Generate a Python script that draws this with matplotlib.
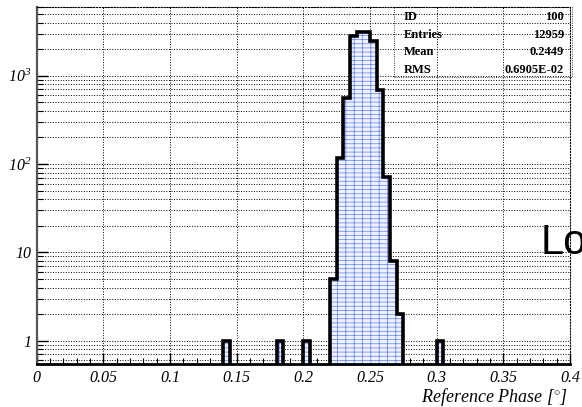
import matplotlib
matplotlib.use("Agg")
import matplotlib.pyplot as plt
from matplotlib.ticker import MultipleLocator, FixedLocator, LogLocator, NullFormatter
import numpy as np

plt.rcParams['mathtext.fontset'] = 'custom'
plt.rcParams['mathtext.rm'] = 'Liberation Serif:italic'
plt.rcParams['mathtext.it'] = 'Liberation Serif:italic'
plt.rcParams['hatch.linewidth'] = 0.5

# Histogram contents, bins of 0.005 starting at 0.14
bin_start = 0.14
bin_width = 0.005
counts = [1, 0, 0, 0, 0, 0, 0, 0,
          1, 0, 0, 0,
          1, 0, 0, 0,
          5, 118, 565, 2830, 3090, 3090, 2490, 690, 71, 8, 2,
          0, 0, 0, 0, 0,
          1]

stats_names = ['ID', 'Entries', 'Mean', 'RMS']
stats_values = ['100', '12959', '0.2449', '0.6905E-02']

x_ticks = [0, 0.05, 0.1, 0.15, 0.2, 0.25, 0.3, 0.35, 0.4]
x_labels = ['0', '0.05', '0.1', '0.15', '0.2', '0.25', '0.3', '0.35', '0.4']
y_ticks = [1, 10, 100, 1000]
y_labels = ['1', '10', r'$10^{2}$', r'$10^{3}$']

edges = bin_start + bin_width * np.arange(len(counts) + 1)
vals = np.array(counts, dtype=float)
vals[vals <= 0] = 1e-2

fig = plt.figure(figsize=(5.82, 4.07), dpi=100)
ax = fig.add_axes([36.7 / 582, 1 - 364 / 407, (570 - 36.7) / 582, (364 - 7) / 407])

ax.set_yscale('log')
# light blue brick-like fill
ax.stairs(vals, edges, baseline=1e-2, fill=True, facecolor='#eef1ff',
          edgecolor='#5f7ef0', linewidth=0, hatch='----||', zorder=2)
ax.stairs(vals, edges, baseline=1e-2, color='black', linewidth=2.6, zorder=3)

ax.set_xlim(0, 0.4)
ax.set_ylim(0.545, 6000)

ax.xaxis.set_major_locator(FixedLocator(x_ticks))
ax.xaxis.set_minor_locator(MultipleLocator(0.01))
ax.set_xticklabels(x_labels, fontfamily='Liberation Serif', fontstyle='italic', fontsize=11.5)
ax.yaxis.set_major_locator(FixedLocator(y_ticks))
ax.yaxis.set_minor_locator(LogLocator(base=10, subs=np.arange(2, 10)))
ax.yaxis.set_minor_formatter(NullFormatter())
ax.set_yticklabels(y_labels, fontfamily='Liberation Serif', fontstyle='italic', fontsize=11.5)

ax.grid(True, which='major', axis='x', color='black', linestyle=':', linewidth=0.7)
ax.grid(True, which='both', axis='y', color='black', linestyle=':', linewidth=0.7)
ax.set_axisbelow(True)

ax.tick_params(which='major', direction='in', length=8, width=1)
ax.tick_params(axis='x', which='major', pad=4)
ax.tick_params(axis='y', which='major', pad=4)
ax.tick_params(which='minor', direction='in', length=4, width=0.8)
ax.tick_params(top=False, right=False, which='both')

ax.spines['left'].set_color('#555555')
ax.spines['left'].set_linewidth(1.6)
ax.spines['bottom'].set_color('black')
ax.spines['bottom'].set_linewidth(2)
for s in ['top', 'right']:
    ax.spines[s].set_linestyle(':')
    ax.spines[s].set_linewidth(0.8)

fig.text(568 / 582, 1 - 397.5 / 407, 'Reference Phase [$^{\\circ}$]', ha='right', va='center',
         fontfamily='Liberation Serif', fontstyle='italic', fontsize=13)

# stats box
bx0, by0 = 394 / 582, 1 - 77 / 407
bx1, by1 = 572 / 582, 1 - 7 / 407
fig.add_artist(plt.Rectangle((bx0, by0), bx1 - bx0, by1 - by0, transform=fig.transFigure,
                             fill=False, edgecolor='black', linewidth=0.6, linestyle=':'))
row_y = [16.7, 34.7, 52, 69.7]
for name, val, yy in zip(stats_names, stats_values, row_y):
    fig.text(404 / 582, 1 - yy / 407, name, ha='left', va='center',
             fontfamily='Liberation Serif', fontweight='bold', fontsize=9)
    fig.text(564 / 582, 1 - yy / 407, val, ha='right', va='center',
             fontfamily='Liberation Serif', fontweight='bold', fontsize=9)

fig.text(541 / 582, 1 - 254 / 407, 'Lo', ha='left', va='baseline',
         fontfamily='Liberation Sans', fontsize=30)

fig.savefig('out.png', dpi=100)
